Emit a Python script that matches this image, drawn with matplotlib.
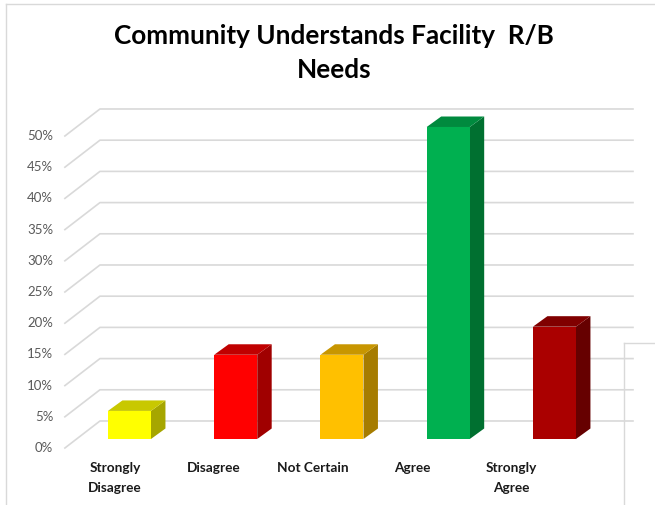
import matplotlib.pyplot as plt
from matplotlib.patches import Polygon
from matplotlib.lines import Line2D

plt.rcParams['font.family'] = ['Lato', 'DejaVu Sans']

# Data
categories = ['Strongly\nDisagree', 'Disagree', 'Not Certain', 'Agree', 'Strongly\nAgree']
values = [4.5, 13.5, 13.5, 50, 18]  # percent
front_colors = ['#ffff00', '#ff0000', '#ffc000', '#00b050', '#aa0000']
top_colors = ['#c8c800', '#c00000', '#c89600', '#008a3e', '#800000']
side_colors = ['#a6a600', '#a00000', '#a67c00', '#007030', '#660000']
yticks = list(range(0, 55, 5))

fig = plt.figure(figsize=(6.55, 5.05), dpi=100)
ax = fig.add_axes([60 / 655, 50 / 505, 580 / 655, 355 / 505])
ax.set_xlim(-0.654, 4.805)
ax.set_ylim(-5.45, 51.44)
ax.axis('off')

# oblique "3D" floor depth and back wall extent (data units)
depth_x, depth_y = 0.33, 4.33
wall_left, wall_right = -0.278, 4.739
grid_col = '#d9d9d9'

for t in yticks:
    ax.plot([wall_left - depth_x, wall_left, wall_right], [t - depth_y, t, t],
            color=grid_col, lw=1.2, zorder=1)
    ax.text(wall_left - depth_x - 0.11, t - depth_y, f'{t}%', ha='right', va='center',
            fontsize=9.5, color='#595959')

# bars
hw = 0.2025          # half width of front face
bdx, bdy = 0.136, 1.68   # bar depth
base = -2.885
for i, v in enumerate(values):
    x0, x1 = i - hw, i + hw
    y0, y1 = base, base + v
    side = Polygon([(x1, y0), (x1 + bdx, y0 + bdy), (x1 + bdx, y1 + bdy), (x1, y1)],
                   closed=True, fc=side_colors[i], ec='none', zorder=3)
    top = Polygon([(x0, y1), (x1, y1), (x1 + bdx, y1 + bdy), (x0 + bdx, y1 + bdy)],
                  closed=True, fc=top_colors[i], ec='none', zorder=3)
    front = Polygon([(x0, y0), (x1, y0), (x1, y1), (x0, y1)],
                    closed=True, fc=front_colors[i], ec='none', zorder=4)
    for p in (side, top, front):
        ax.add_patch(p)

# category labels on the front edge
for i, lab in enumerate(categories):
    ax.text(-0.136 + 0.932 * i, -6.5, lab, ha='center', va='top', fontsize=9.8,
            fontweight='bold', color='#1a1a1a', linespacing=1.8, clip_on=False)

# title
fig.text(334 / 655, 1 - 53 / 505, 'Community Understands Facility  R/B\nNeeds',
         ha='center', va='center', fontsize=18.8, fontweight='bold', color='black',
         linespacing=1.55)

# chart border and the overlapping box on the right
for xs, ys in [([6, 6], [4, 505]), ([6, 655], [4, 4]),
               ([624, 624], [343, 505]), ([624, 655], [343, 343])]:
    fig.add_artist(Line2D([x / 655 for x in xs], [1 - y / 505 for y in ys],
                          color=grid_col, lw=1.0))

fig.savefig('out.png', dpi=100)
